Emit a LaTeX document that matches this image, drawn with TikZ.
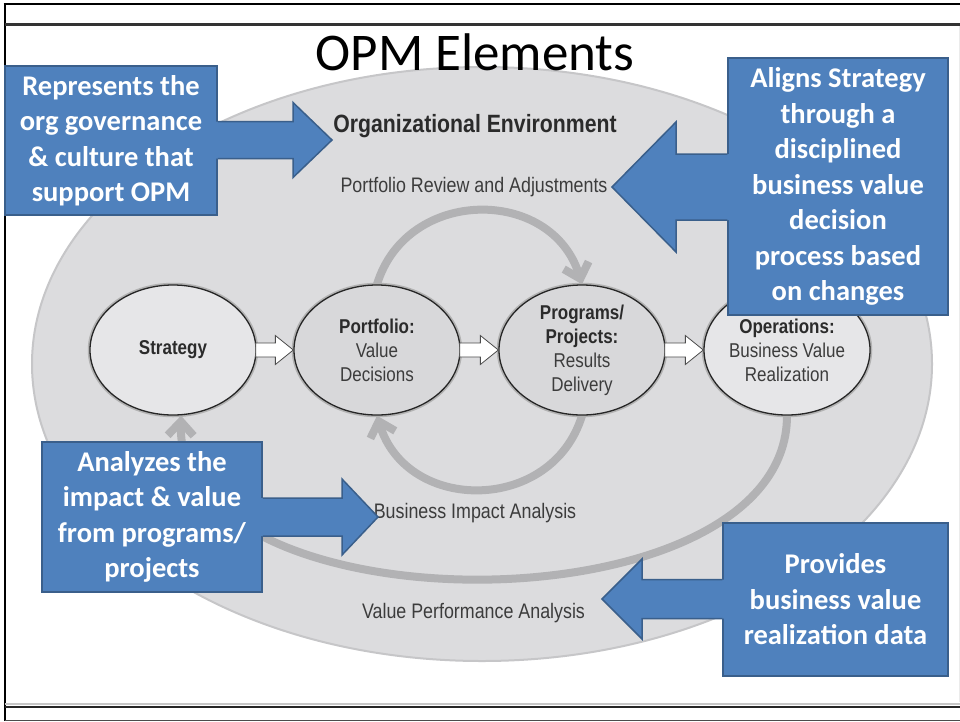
\documentclass[tikz,border=0pt]{standalone}
\usepackage{fontspec}
\setmainfont{Carlito}
\newfontfamily\condfont[FakeStretch=0.85]{Liberation Sans}
\usetikzlibrary{calc,arrows.meta,shapes.geometric}
\definecolor{envfill}{HTML}{DCDCDE}
\definecolor{envline}{HTML}{C6C6C8}
\definecolor{arcgray}{HTML}{B2B2B4}
\definecolor{nodelight}{HTML}{E6E6E8}
\definecolor{nodedark}{HTML}{D8D8DA}
\definecolor{cfill}{HTML}{4F81BD}
\definecolor{cline}{HTML}{3A5F8B}
\definecolor{txtdark}{HTML}{2B2B2B}
\definecolor{txtreg}{HTML}{3C3C3C}
\pgfdeclarelayer{back}
\pgfdeclarelayer{mid}
\pgfsetlayers{back,mid,main}
\newcommand\hd[1]{\textcolor{txtdark}{\bfseries #1}}
\newcommand\hollowarrow[2]{%
  \filldraw[harrow] ($(#1.east)+(-1,7)$) -- ($(#2.west)+(-18,7)$) -- ($(#2.west)+(-18,14.5)$) -- (#2.west) -- ($(#2.west)+(-18,-14.5)$) -- ($(#2.west)+(-18,-7)$) -- ($(#1.east)+(-1,-7)$) -- cycle;}
% #1 box anchor, #2 tip coordinate, #3 shaft half height, #4 head half height, #5 signed head length
\newcommand\calloutarrow[5]{%
  \fill[cfill] ($(#1 |- #2)+({-0.06*(#5)},#3)$) -- ($(#2)+({-(#5)},#3)$) -- ($(#2)+({-(#5)},#4)$) -- (#2) -- ($(#2)+({-(#5)},-#4)$) -- ($(#2)+({-(#5)},-#3)$) -- ($(#1 |- #2)+({-0.06*(#5)},-#3)$) -- cycle;
  \draw[cline, line width=1.5pt, line join=miter] ($(#1 |- #2)+(0,#3)$) -- ($(#2)+({-(#5)},#3)$) -- ($(#2)+({-(#5)},#4)$) -- (#2) -- ($(#2)+({-(#5)},-#4)$) -- ($(#2)+({-(#5)},-#3)$) -- ($(#1 |- #2)+(0,-#3)$);}
\begin{document}
\begin{tikzpicture}[x=1pt,y=1pt,
  stage/.style={ellipse, draw=black!85, line width=1.3pt, minimum width=166pt, minimum height=130pt, inner sep=0pt, align=center, font=\condfont\fontsize{20}{24}\selectfont, text=txtreg, preaction={draw=black!30, line width=4.5pt}},
  garc/.style={draw=arcgray, line width=8pt, -{Straight Barb[length=14pt,width=26pt]}},
  harrow/.style={fill=white, draw=black!70, line width=0.8pt, line join=miter},
  callout/.style={rectangle, fill=cfill, draw=cline, line width=1.5pt, text=white, font=\bfseries\fontsize{28.5}{35.5}\selectfont, align=center, inner sep=0pt},
  lbl/.style={font=\condfont\fontsize{21}{25}\selectfont, text=txtreg, inner sep=0pt},
  envtitle/.style={font=\condfont\bfseries\fontsize{25}{30}\selectfont, text=txtdark, inner sep=0pt},
  frameline/.style={line cap=butt}
]
\useasboundingbox (0,0) rectangle (960,-721);
% frame
\begin{pgfonlayer}{back}
\fill[white] (0,0) rectangle (960,-721);
\draw[frameline, line width=2pt] (3.5,-4) -- (960,-4);
\draw[frameline, line width=2pt] (4.5,-4) -- (4.5,-721);
\draw[frameline, line width=3pt, black!80] (4.5,-24) -- (960,-24);
\draw[frameline, line width=0.8pt, black!8] (959.6,-26) -- (959.6,-702);
\draw[frameline, line width=2pt, black!22] (4.5,-703.5) -- (960,-703.5);
\draw[frameline, line width=2.5pt, black!85] (4.5,-707) -- (960,-707);
\draw[frameline, line width=1pt, black!70] (4.5,-720) -- (960,-720);
% organizational environment
\filldraw[fill=envfill, draw=envline, line width=2pt] (482,-364) ellipse [x radius=450, y radius=297];
\end{pgfonlayer}
% title
\node[font=\fontsize{53}{60}\selectfont, anchor=base, inner sep=0pt] (title) at (475,-70) {OPM Elements};
% stages
\node[stage, fill=nodelight] (s) at (173,-350) {\hd{Strategy}};
\node[stage, fill=nodedark] (p) at (377,-350) {\hd{Portfolio:}\\Value\\Decisions};
\node[stage, fill=nodedark] (q) at (582,-350) {\hd{Programs/}\\\hd{Projects:}\\Results\\Delivery};
\node[stage, fill=nodelight] (o) at (787,-350) {\hd{Operations:}\\Business Value\\Realization};
% cycle arcs
\begin{pgfonlayer}{mid}
\draw[garc] (p.north) .. controls +(30,98) and +(-30,98) .. (q.north);
\draw[garc] (q.south) .. controls +(-30,-98) and +(30,-98) .. (p.south);
\draw[garc] (o.south) .. controls +(0,-217) and +(-4,-217) .. ($(s.south)+(8,0)$);
\end{pgfonlayer}
% hollow arrows
\hollowarrow{s}{p}
\hollowarrow{p}{q}
\hollowarrow{q}{o}
% labels
\node[envtitle, anchor=base] (orgenv) at (475,-132) {Organizational Environment};
\node[lbl, anchor=base] (prl) at (474,-192) {Portfolio Review and Adjustments};
\node[lbl, anchor=base] (bia) at (475,-518) {Business Impact Analysis};
\node[lbl, anchor=base] (vpa) at (473.5,-618) {Value Performance Analysis};
% callouts
\node[callout, minimum width=212pt, minimum height=149pt] (c1) at (111,-140.5) {Represents the\\org governance\\\& culture that\\support OPM};
\coordinate (t1) at (332,-140);
\calloutarrow{c1.east}{t1}{18.5}{37.5}{39}
\node[callout, minimum width=220pt, minimum height=257pt] (c2) at (838,-186.5) {Aligns Strategy\\through a\\disciplined\\business value\\decision\\process based\\on changes};
\coordinate (t2) at (612,-187);
\calloutarrow{c2.west}{t2}{33}{65}{-64}
\node[callout, minimum width=220pt, minimum height=150pt] (c3) at (152,-517) {Analyzes the\\impact \& value\\from programs/\\projects};
\coordinate (t3) at (378,-517);
\calloutarrow{c3.east}{t3}{19}{38}{36}
\node[callout, minimum width=225pt, minimum height=153pt] (c4) at (835.5,-599.5) {Provides\\business value\\realization data};
\coordinate (t4) at (602,-599);
\calloutarrow{c4.west}{t4}{19.5}{40}{-40}
\end{tikzpicture}
\end{document}
